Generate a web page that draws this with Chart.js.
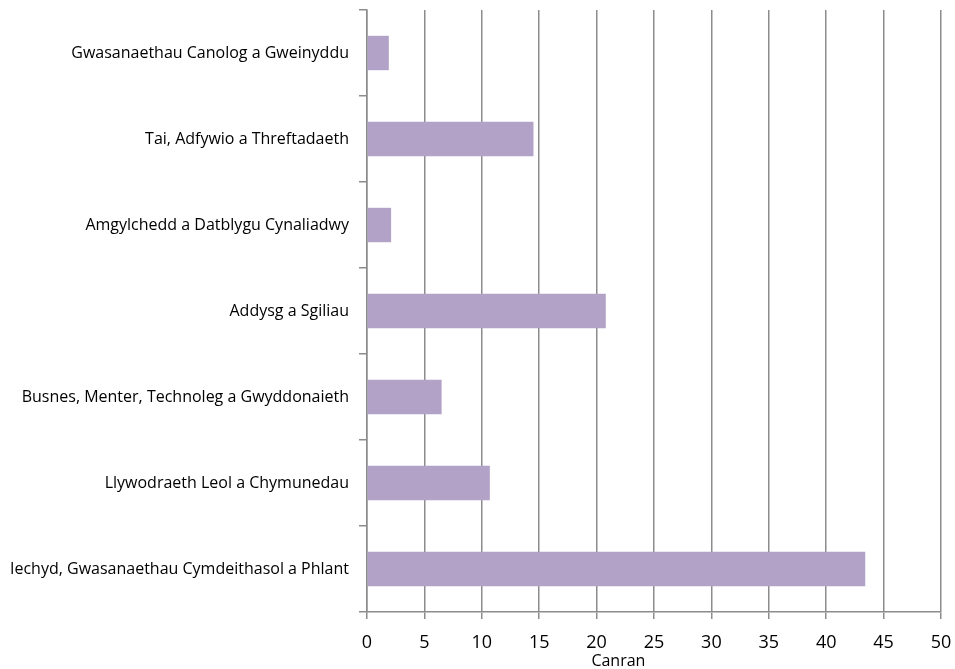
<!DOCTYPE html>
<html>
<head>
<meta charset="utf-8">
<script src="https://cdn.jsdelivr.net/npm/chart.js@4/dist/chart.umd.min.js"></script>
<style>
html,body{margin:0;padding:0;background:#fff;}
#wrap{width:955px;height:669px;position:relative;}
</style>
</head>
<body>
<div id="wrap"><canvas id="c" width="955" height="669"></canvas></div>
<script>
const categories = [
  "Gwasanaethau Canolog a Gweinyddu",
  "Tai, Adfywio a Threftadaeth",
  "Amgylchedd a Datblygu Cynaliadwy",
  "Addysg a Sgiliau",
  "Busnes, Menter, Technoleg a Gwyddonaieth",
  "Llywodraeth Leol a Chymunedau",
  "Iechyd, Gwasanaethau Cymdeithasol a Phlant"
];
const values = [1.9, 14.5, 2.1, 20.8, 6.5, 10.7, 43.4];
const axisTitle = "Canran";

const axisTitlePlugin = {
  id: 'axisTitle',
  afterDraw(chart) {
    const ctx = chart.ctx;
    const xs = chart.scales.x;
    ctx.save();
    ctx.font = '16px "Open Sans"';
    ctx.fillStyle = '#000';
    ctx.textAlign = 'center';
    ctx.textBaseline = 'alphabetic';
    ctx.fillText(axisTitle, xs.getPixelForValue(21.9), 666);
    ctx.restore();
  }
};

new Chart(document.getElementById('c'), {
  type: 'bar',
  data: {
    labels: categories,
    datasets: [{
      data: values,
      backgroundColor: '#b3a2c7',
      borderWidth: 0,
      categoryPercentage: 1.0,
      barPercentage: 0.4
    }]
  },
  options: {
    indexAxis: 'y',
    responsive: false,
    animation: false,
    layout: { padding: { top: 10, right: 14, bottom: 0, left: 0 } },
    plugins: { legend: { display: false }, tooltip: { enabled: false } },
    scales: {
      x: {
        min: 0, max: 50,
        ticks: { stepSize: 5, color: '#000', font: { family: 'Open Sans', size: 18 }, padding: 13 },
        grid: { color: '#8c8c8c', lineWidth: 1.5, tickLength: 7, drawTicks: true },
        border: { color: '#8c8c8c', width: 1.5 },
        afterFit: s => { s.height = 57; s.paddingRight = 0; s.paddingLeft = 0; }
      },
      y: {
        offset: true,
        ticks: { color: '#000', font: { family: 'Open Sans', size: 16 }, padding: 10 },
        grid: { offset: true, drawOnChartArea: false, color: '#8c8c8c', lineWidth: 1.5, tickLength: 8 },
        border: { color: '#8c8c8c', width: 1.5 },
        afterFit: s => { s.width = 367; s.paddingTop = 0; s.paddingBottom = 0; }
      }
    }
  },
  plugins: [axisTitlePlugin]
});
</script>
</body>
</html>
